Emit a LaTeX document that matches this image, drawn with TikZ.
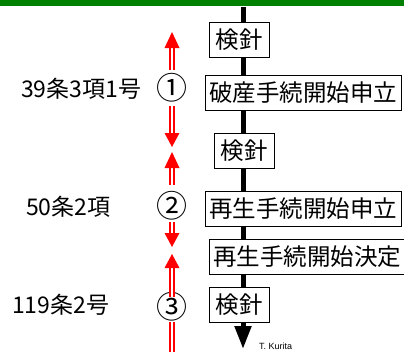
\documentclass[tikz,border=0pt]{standalone}
\usepackage{fontspec}
\setmainfont{Noto Sans CJK JP}
\newfontfamily\latinfont{Liberation Sans}
\usetikzlibrary{arrows.meta}
\definecolor{topgreen}{RGB}{0,128,0}
\tikzset{
  stepbox/.style={draw=black, line width=1pt, fill=white, inner sep=0pt,
    minimum height=35pt, font=\fontsize{23.5}{25}\selectfont},
  lbl/.style={inner sep=0pt, font=\fontsize{23}{25}\selectfont},
  circnum/.style={inner sep=0pt, font=\fontsize{31}{33}\selectfont},
  redshaft/.style={draw=red, line width=1.8pt, double=white, double distance=2.2pt},
  mainline/.style={line width=5pt, -{Triangle[width=16pt,length=23pt]}},
}
\begin{document}
\begin{tikzpicture}[x=1pt,y=-1pt]
\useasboundingbox (0,0) rectangle (404,351);
% green top rule
\fill[topgreen] (0,0) rectangle (404,6);
% main time line
\coordinate (top) at (243,7);
\coordinate (bot) at (243,349);
\draw[mainline] (top) -- (bot);
% boxes
\node[stepbox, minimum width=60pt]  (k1) at (239,40)   {検針};
\node[stepbox, minimum width=196pt] (b1) at (303,92.5) {破産手続開始申立};
\node[stepbox, minimum width=60pt]  (k2) at (244,150.5){検針};
\node[stepbox, minimum width=196pt] (r1) at (303,208.5){再生手続開始申立};
\node[stepbox, minimum width=196pt] (r2) at (307,257)  {再生手続開始決定};
\node[stepbox, minimum width=60pt]  (k3) at (239,305)  {検針};
% left labels
\node[lbl, anchor=west] (l1) at (21,89)  {39条3項1号};
\node[lbl, anchor=west] (l2) at (26,207) {50条2項};
\node[lbl, anchor=west] (l3) at (12,305) {119条2号};
% circled numbers
\node[circnum] (n1) at (171.5,88)  {①};
\node[circnum] (n2) at (171.5,206) {②};
\node[circnum] (n3) at (171.5,307) {③};
% red arrows
\coordinate (a1s) at (172,70);  \coordinate (a1b) at (172,48);  \coordinate (a1t) at (172,32);
\coordinate (a2s) at (172,106); \coordinate (a2b) at (172,133); \coordinate (a2t) at (172,147);
\coordinate (a3s) at (172,185); \coordinate (a3b) at (172,168); \coordinate (a3t) at (172,152);
\coordinate (a4s) at (172,222); \coordinate (a4b) at (172,233); \coordinate (a4t) at (172,247);
\coordinate (a5s) at (172,297); \coordinate (a5b) at (172,268); \coordinate (a5t) at (172,254);
\coordinate (a6s) at (172,322); \coordinate (a6b) at (172,356);
\foreach \a in {1,...,5}{
  \draw[redshaft] (a\a s) -- (a\a b);
  \fill[red] ([xshift=-7.5pt]a\a b) -- ([xshift=7.5pt]a\a b) -- (a\a t) -- cycle;
}
\draw[redshaft] (a6s) -- (a6b);
% signature
\node[anchor=base west, inner sep=0pt, font=\latinfont\fontsize{9}{10}\selectfont] (sig) at (259,349.5) {T. Kurita};
\end{tikzpicture}
\end{document}
